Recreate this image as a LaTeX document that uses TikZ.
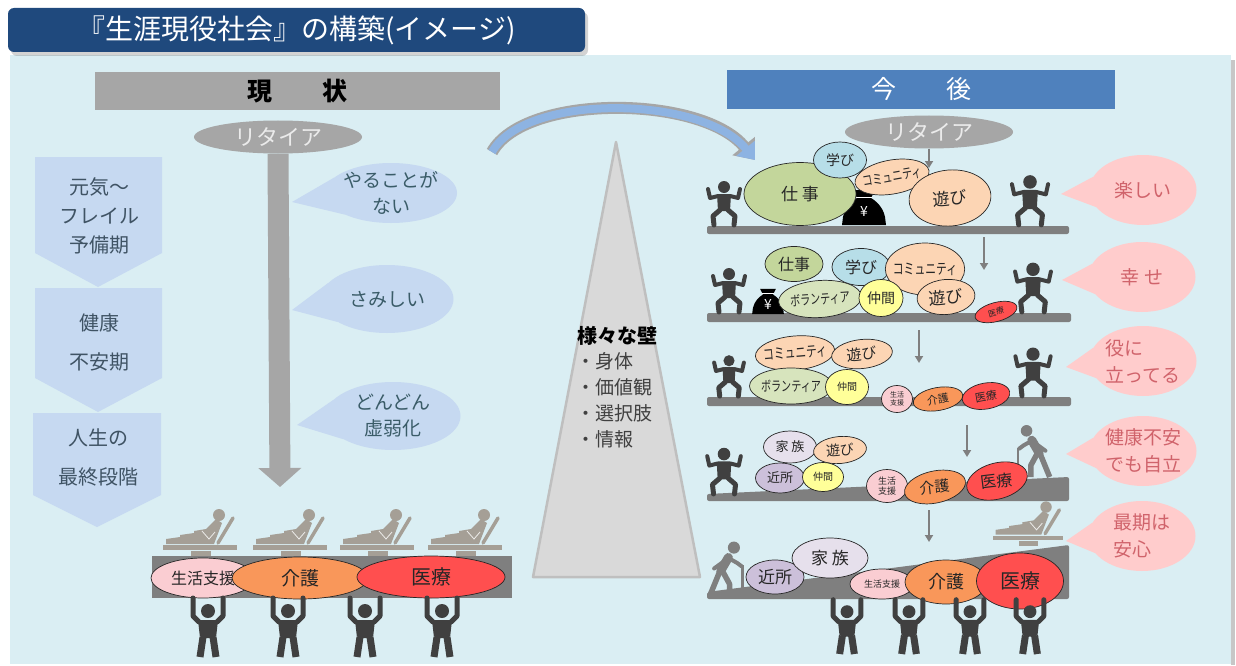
\documentclass[tikz,border=0pt]{standalone}
\usepackage{fontspec}
\setmainfont{Noto Sans CJK JP}
\usetikzlibrary{shapes.geometric,arrows.meta,shadows}

\definecolor{panelbg}{HTML}{DAEEF3}
\definecolor{titlebg}{HTML}{1F497D}
\definecolor{hdrgray}{HTML}{A6A6A6}
\definecolor{hdrblue}{HTML}{4F81BD}
\definecolor{chevfill}{HTML}{C6D9F1}
\definecolor{chevink}{HTML}{3F5364}
\definecolor{lbubink}{HTML}{3A5C68}
\definecolor{pbubfill}{HTML}{FFCCCC}
\definecolor{pbubink}{HTML}{D0636B}
\definecolor{wallfill}{HTML}{D9D9D9}
\definecolor{wallline}{HTML}{BFBFBF}
\definecolor{arcblue}{HTML}{8DB3E2}
\definecolor{barfill}{HTML}{7F7F7F}
\definecolor{figdark}{HTML}{404040}
\definecolor{eldgray}{HTML}{7F7F7F}
\definecolor{bedgray}{HTML}{A59F96}
\definecolor{cWork}{HTML}{C3D69B}
\definecolor{cVol}{HTML}{D7E4BD}
\definecolor{cLearn}{HTML}{B7DEE8}
\definecolor{cComm}{HTML}{FCD5B4}
\definecolor{cMate}{HTML}{FFFF99}
\definecolor{cLife}{HTML}{FACDD2}
\definecolor{cCare}{HTML}{F9975A}
\definecolor{cMed}{HTML}{FF4F4F}
\definecolor{cFam}{HTML}{E6E0EC}
\definecolor{cNbr}{HTML}{CCC0DA}

\newcommand\fsz[2]{\fontsize{#1}{#2}\selectfont}
\newcommand\narrow[1]{\scalebox{0.72}[1]{#1}}

\tikzset{
  oval/.style={ellipse, draw=black!85, line width=0.7pt, inner sep=-4pt, text=black!85},
  lbubble/.style={ellipse, fill=chevfill, inner sep=-8pt, align=center, text=lbubink, font=\fsz{19}{26}},
  pbubble/.style={ellipse, fill=pbubfill, inner sep=-8pt, minimum width=107, minimum height=70, text=pbubink, font=\fsz{19}{27}},
  retire/.style={ellipse, fill=hdrgray, minimum width=168, minimum height=33, inner sep=-4pt, text=white!92!black, font=\fsz{22}{22}},
  sarrow/.style={draw=barfill, line width=1.8pt, -{Triangle[length=7pt,width=8pt]}},
  bar/.style={fill=barfill, rounded corners=2pt},
  % crouching person with bent arms
  squatter/.pic={
    \fill[figdark] (0,-39) circle (6);
    \fill[figdark,rounded corners=2] (-7,-32) -- (7,-32) -- (6,-15) -- (-6,-15) -- cycle;
    \draw[figdark,line width=4pt,line cap=round,line join=round]
      (-6,-30) -- (-14,-28) -- (-16,-37) (6,-30) -- (14,-28) -- (16,-37);
    \draw[figdark,line width=5pt,line cap=round,line join=round]
      (-4,-16) -- (-11,-10) -- (-10,-1) (4,-16) -- (11,-10) -- (10,-1);
  },
  % person holding a load overhead
  lifter/.pic={
    \fill[figdark] (0,-46) circle (7);
    \fill[figdark,rounded corners=2] (-10,-37) -- (10,-37) -- (8,-19) -- (-8,-19) -- cycle;
    \draw[figdark,line width=5pt,line cap=round,line join=round]
      (-9,-35) -- (-15,-41) -- (-15,-59) (9,-35) -- (15,-41) -- (15,-59);
    \draw[figdark,line width=7pt,line join=round] (-5,-20) -- (-8,0) (5,-20) -- (8,0);
  },
  % stooped person with a cane, facing right
  elder/.pic={
    \fill[eldgray] (9,-44) circle (5.5);
    \draw[eldgray,line width=9pt,line cap=round] (-3,-23) -- (4,-35);
    \draw[eldgray,line width=5.5pt,line join=round] (-4,-22) -- (-13,0) (-1,-22) -- (5,-11) -- (5,0);
    \draw[eldgray,line width=4pt,line cap=round,line join=round] (5,-34) -- (12,-30) -- (16,-27);
    \draw[eldgray,line width=4pt,line cap=round] (2,-33) -- (-9,-25);
    \draw[eldgray,line width=2.5pt] (17,-28) -- (17,0);
  },
  % reclining care bed with patient
  bedicon/.pic={
    \fill[bedgray] (-9,-5) rectangle (11,0);
    \fill[bedgray] (-37,-11) rectangle (37,-6);
    \fill[bedgray] (-34,-12) -- (-34,-17) -- (-20,-19) -- (-20,-21) -- (-6,-23) -- (-6,-25)
      -- (6,-27) -- (16,-37) -- (22,-33) -- (14,-12) -- cycle;
    \draw[bedgray,line width=3.5pt,line cap=round] (18,-13) -- (33,-38);
    \fill[bedgray] (19,-41) circle (6);
    \draw[white!80!bedgray,line width=0.8pt] (2,-25) -- (9,-17) -- (15,-24);
  },
  % money bag with yen mark
  moneybag/.pic={
    \fill[black] (-22,0) -- (22,0) -- (21,-8) .. controls (19,-18) and (12,-24) .. (7,-27)
      -- (9,-31) -- (11,-35) -- (-11,-35) -- (-9,-31) -- (-7,-27)
      .. controls (-12,-24) and (-19,-18) .. (-21,-8) -- cycle;
    \draw[white,line width=0.8pt] (-8,-28) -- (8,-28);
    \node[text=white,font=\fsz{14}{14}] (-yen) at (0,-13) {¥};
  },
}

\begin{document}
\begin{tikzpicture}[x=1pt,y=-1pt,every node/.style={inner sep=0pt}]
\useasboundingbox (0,0) rectangle (1236,666);

% ---------- panel and title ----------
\fill[black!22] (1231,60) rectangle (1235,665);
\fill[panelbg] (10,55) rectangle (1231,664);
\node[fill=titlebg, rounded corners=6pt, minimum width=577, minimum height=44,
      text=white, font=\fsz{28}{28},
      drop shadow={shadow xshift=3pt, shadow yshift=-4pt, opacity=0.35}]
  (title) at (296.5,30) {『生涯現役社会』の構築(イメージ)};

% ---------- headers ----------
\node[fill=hdrgray, minimum width=405, minimum height=38, font=\fsz{25}{25}\bfseries]
  (hdrNow) at (297.5,91) {現　　状};
\node[fill=hdrblue, minimum width=388, minimum height=39, text=white, font=\fsz{25}{25}]
  (hdrFut) at (921,89.5) {今　　後};

% ---------- life stages (left chevrons) ----------
\fill[chevfill] (35,157) -- (162,157) -- (162,253) -- (98,287) -- (35,253) -- cycle;
\fill[chevfill] (35,288) -- (162,288) -- (162,378) -- (98,412) -- (35,378) -- cycle;
\fill[chevfill] (33,413) -- (161,413) -- (161,495) -- (97,527) -- (33,495) -- cycle;
\node[align=center, text=chevink, font=\fsz{20}{29}] (stage1) at (99,216) {元気〜\\フレイル\\予備期};
\node[align=center, text=chevink, font=\fsz{20}{39}] (stage2) at (99,342) {健康\\不安期};
\node[align=center, text=chevink, font=\fsz{20}{39}] (stage3) at (98,457) {人生の\\最終段階};

% ---------- present: retirement and decline ----------
\node[retire] (retireNow) at (278,137) {リタイア};
\coordinate (downEnd) at (280,487);
\draw[hdrgray, line width=21pt, -{Triangle[length=19pt,width=42pt]}] (retireNow.south) -- (downEnd);

\node[lbubble, minimum width=132, minimum height=60] (bubDo) at (391,193) {やることが\\ない};
\coordinate (bubDoTip) at (292,202);
\fill[chevfill] (bubDoTip) -- (bubDo.165) -- (bubDo.205) -- cycle;
\node[lbubble, minimum width=133, minimum height=68] (bubLone) at (387,299) {さみしい};
\coordinate (bubLoneTip) at (292,310);
\fill[chevfill] (bubLoneTip) -- (bubLone.165) -- (bubLone.205) -- cycle;
\node[lbubble, minimum width=135, minimum height=68] (bubWeak) at (393,416) {どんどん\\虚弱化};
\coordinate (bubWeakTip) at (297,425);
\fill[chevfill] (bubWeakTip) -- (bubWeak.165) -- (bubWeak.205) -- cycle;

% ---------- present: bedridden, carried by supporters ----------
\foreach \bx/\nm in {200/bedA,290/bedB,377/bedC,465/bedD}
  \pic (\nm) at (\bx,556) {bedicon};
\fill[barfill] (152,556) rectangle (512,598);
\node[oval, fill=cLife, minimum width=104, minimum height=40, font=\fsz{16}{16}] (nowLife) at (203,578) {生活支援};
\node[oval, fill=cCare, minimum width=136, minimum height=42, font=\fsz{19}{19}] (nowCare) at (300,578) {介護};
\node[oval, fill=cMed, minimum width=148, minimum height=42, font=\fsz{20}{20}] (nowMed) at (431,577) {医療};
\foreach \lx/\nm in {208/liftA,288/liftB,365/liftC,442/liftD}
  \pic (\nm) at (\lx,657) {lifter};

% ---------- the wall ----------
\filldraw[fill=wallfill, draw=wallline, line width=2.5pt, line join=round]
  (616,142) -- (700,577) -- (533,577) -- cycle;
\node[font=\fsz{20}{20}\bfseries, text=black] (wallTitle) at (617,336) {様々な壁};
\node[anchor=north west, align=left, font=\fsz{19}{26}, text=figdark] (wallList) at (576,352)
  {・身体\\・価値観\\・選択肢\\・情報};

% ---------- transition arc ----------
\coordinate (arcStart) at (492,152);
\coordinate (arcEnd) at (755,160);
\draw[hdrgray, line width=12pt, -{Triangle[length=18pt,width=28pt]}]
  (arcStart) .. controls (525,93) and (702,95) .. (arcEnd);
\draw[arcblue, line width=8pt, -{Triangle[length=15pt,width=23pt]}]
  (arcStart) .. controls (525,93) and (702,95) .. (arcEnd);

% ---------- future: retirement ----------
\node[retire] (retireFut) at (929,132) {リタイア};
\coordinate (arrow0End) at (929,168);
\draw[sarrow] (retireFut.south) -- (arrow0End);

% ---------- future row 1 ----------
\fill[bar] (707,226) rectangle (1069,234);
\pic (r1L) at (724,226) {squatter};
\pic[scale=1.13] (r1R) at (1030,226) {squatter};
\pic (r1Bag) at (864,225) {moneybag};
\node[oval, fill=cWork, minimum width=112, minimum height=63, font=\fsz{17}{17}] (r1Work) at (800,194) {仕 事};
\node[oval, fill=cLearn, minimum width=53, minimum height=36, font=\fsz{14}{14}] (r1Learn) at (840,160) {学び};
\node[oval, fill=cComm, minimum width=75, minimum height=34, rotate=10, font=\fsz{14}{14}] (r1Comm) at (892,177) {\narrow{コミュニティ}};
\node[oval, fill=cComm, minimum width=82, minimum height=56, rotate=5, font=\fsz{17}{17}] (r1Play) at (950,198) {遊び};
\node[pbubble] (bubFun) at (1143,190) {楽しい};
\coordinate (bubFunTip) at (1061,194);
\fill[pbubfill] (bubFunTip) -- (bubFun.165) -- (bubFun.200) -- cycle;
\coordinate (arrow1Start) at (984,237);
\coordinate (arrow1End) at (984,270);
\draw[sarrow] (arrow1Start) -- (arrow1End);

% ---------- future row 2 ----------
\fill[bar] (707,313) rectangle (1071,322);
\pic[scale=1.0] (r2L) at (729,313) {squatter};
\pic[scale=1.12] (r2R) at (1033,313) {squatter};
\pic[scale=0.72] (r2Bag) at (768,314) {moneybag};
\node[oval, fill=cWork, minimum width=58, minimum height=35, font=\fsz{16}{16}] (r2Work) at (794,264) {仕事};
\node[oval, fill=cLearn, minimum width=58, minimum height=37, font=\fsz{16}{16}] (r2Learn) at (861,267) {学び};
\node[oval, fill=cComm, minimum width=76, minimum height=52, font=\fsz{15}{15}] (r2Comm) at (925,269) {\narrow{コミュニティ}};
\node[oval, fill=cVol, minimum width=83, minimum height=37, rotate=4, font=\fsz{14}{14}] (r2Vol) at (820,299) {\narrow{ボランティア}};
\node[oval, fill=cMate, minimum width=44, minimum height=37, font=\fsz{14}{14}] (r2Mate) at (881,298) {仲間};
\node[oval, fill=cComm, minimum width=58, minimum height=35, rotate=5, font=\fsz{17}{17}] (r2Play) at (946,297) {遊び};
\node[oval, fill=cMed, minimum width=43, minimum height=19, rotate=15, font=\fsz{8}{8}] (r2Med) at (996,312) {医療};
\node[pbubble] (bubHappy) at (1142,277) {幸 せ};
\coordinate (bubHappyTip) at (1062,280);
\fill[pbubfill] (bubHappyTip) -- (bubHappy.165) -- (bubHappy.200) -- cycle;
\coordinate (arrow2Start) at (919,330);
\coordinate (arrow2End) at (919,363);
\draw[sarrow] (arrow2Start) -- (arrow2End);

% ---------- future row 3 ----------
\fill[bar] (707,397) rectangle (1071,406);
\pic[scale=0.93] (r3L) at (729,397) {squatter};
\pic[scale=1.1] (r3R) at (1033,397) {squatter};
\node[oval, fill=cComm, minimum width=74, minimum height=34, rotate=5, font=\fsz{15}{15}] (r3Comm) at (795,353) {\narrow{コミュニティ}};
\node[oval, fill=cComm, minimum width=61, minimum height=29, rotate=6, font=\fsz{15}{15}] (r3Play) at (862,354) {遊び};
\node[oval, fill=cVol, minimum width=83, minimum height=36, font=\fsz{14}{14}] (r3Vol) at (791,386) {\narrow{ボランティア}};
\node[oval, fill=cMate, minimum width=43, minimum height=35, font=\fsz{10}{10}] (r3Mate) at (847,387) {仲間};
\node[oval, fill=cLife, minimum width=31, minimum height=27, align=center, font=\fsz{7}{8}] (r3Life) at (897,399) {生活\\支援};
\node[oval, fill=cCare, minimum width=50, minimum height=23, rotate=10, font=\fsz{11}{11}] (r3Care) at (938,399) {介護};
\node[oval, fill=cMed, minimum width=48, minimum height=26, rotate=10, font=\fsz{11}{11}] (r3Med) at (986,396) {医療};
\node[pbubble, align=left] (bubUseful) at (1143,361) {役に\\立ってる};
\coordinate (bubUsefulTip) at (1066,367);
\fill[pbubfill] (bubUsefulTip) -- (bubUseful.165) -- (bubUseful.200) -- cycle;
\coordinate (arrow3Start) at (967,425);
\coordinate (arrow3End) at (967,457);
\draw[sarrow] (arrow3Start) -- (arrow3End);

% ---------- future row 4 ----------
\fill[barfill, rounded corners=2pt] (707,494) -- (1069,477) -- (1069,501) -- (707,501) -- cycle;
\pic[scale=1.05] (r4L) at (724,495) {squatter};
\pic[xscale=-1.05,yscale=1.05] (r4R) at (1036,477) {elder};
\node[oval, fill=cFam, minimum width=53, minimum height=32, font=\fsz{13}{13}] (r4Fam) at (790,447) {家 族};
\node[oval, fill=cComm, minimum width=53, minimum height=27, rotate=5, font=\fsz{14}{14}] (r4Play) at (840,450) {遊び};
\node[oval, fill=cNbr, minimum width=49, minimum height=30, font=\fsz{13}{13}] (r4Nbr) at (780,478) {近所};
\node[oval, fill=cMate, minimum width=41, minimum height=29, font=\fsz{10}{10}] (r4Mate) at (823,477) {仲間};
\node[oval, fill=cLife, minimum width=41, minimum height=33, align=center, font=\fsz{9}{10}] (r4Life) at (887,486) {生活\\支援};
% tilted ovals with their labels set separately
\node[oval, fill=cCare, minimum width=62, minimum height=32, rotate=12] (r4Care) at (935,487) {};
\node[oval, fill=cMed, minimum width=62, minimum height=36, rotate=15] (r4Med) at (997,481) {};
\node[rotate=6, font=\fsz{15}{15}, text=black!85] (r4CareLabel) at (r4Care.center) {介護};
\node[rotate=7, font=\fsz{16}{16}, text=black!85] (r4MedLabel) at (r4Med.center) {医療};
\node[pbubble, align=center] (bubIndep) at (1143,451) {健康不安\\でも自立};
\coordinate (bubIndepTip) at (1066,454);
\fill[pbubfill] (bubIndepTip) -- (bubIndep.165) -- (bubIndep.200) -- cycle;
\coordinate (arrow4Start) at (929,510);
\coordinate (arrow4End) at (929,542);
\draw[sarrow] (arrow4Start) -- (arrow4End);

% ---------- future row 5 ----------
\pic[scale=0.95] (r5Bed) at (1028,546) {bedicon};
\fill[barfill, rounded corners=2pt] (707,592) -- (1069,545) -- (1069,599) -- (707,599) -- cycle;
\pic[scale=1.1] (r5L) at (724,596) {elder};
\node[oval, fill=cNbr, minimum width=58, minimum height=34, font=\fsz{17}{17}] (r5Nbr) at (775,577) {近所};
\node[oval, fill=cFam, minimum width=76, minimum height=40, font=\fsz{17}{17}] (r5Fam) at (830,558) {家 族};
\node[oval, fill=cLife, minimum width=64, minimum height=30, font=\fsz{9}{9}] (r5Life) at (882,584) {生活支援};
\node[oval, fill=cCare, minimum width=82, minimum height=44, font=\fsz{18}{18}] (r5Care) at (946,582) {介護};
\node[oval, fill=cMed, minimum width=87, minimum height=56, font=\fsz{20}{20}] (r5Med) at (1020,581) {医療};
\foreach \lx/\nm in {847/r5LiftA,909/r5LiftB,970/r5LiftC,1030/r5LiftD}
  \pic[scale=0.92] (\nm) at (\lx,654) {lifter};
\node[pbubble, align=left] (bubPeace) at (1142,536) {最期は\\安心};
\coordinate (bubPeaceTip) at (1066,541);
\fill[pbubfill] (bubPeaceTip) -- (bubPeace.165) -- (bubPeace.200) -- cycle;

\end{tikzpicture}
\end{document}
